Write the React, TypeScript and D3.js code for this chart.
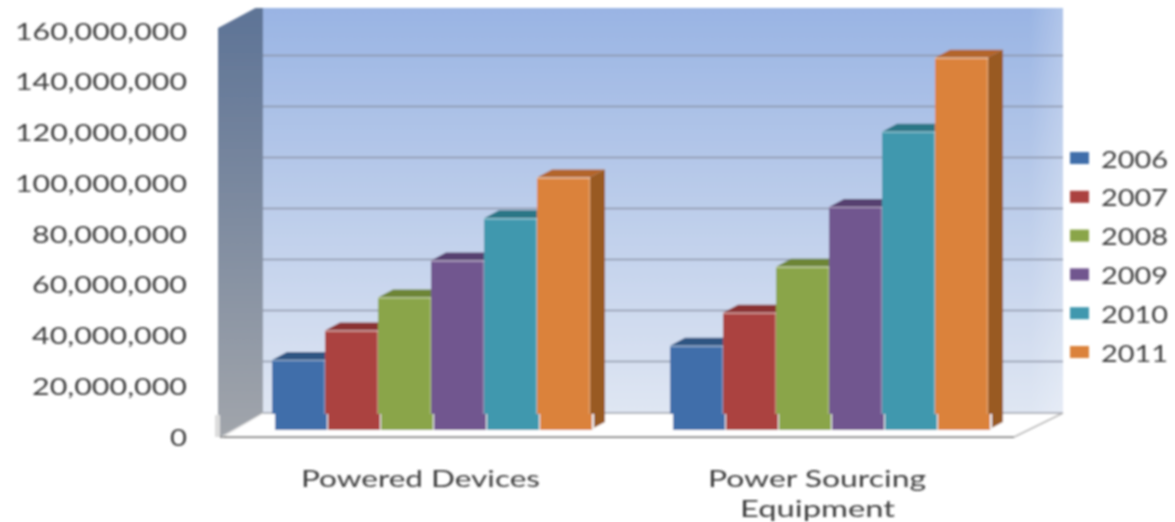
import React from "react";
import * as d3 from "d3";

const categories = ["Powered Devices", "Power Sourcing Equipment"];
const years = ["2006", "2007", "2008", "2009", "2010", "2011"];
const values2006 = [27500000, 33000000];
const values2007 = [39000000, 46000000];
const values2008 = [52000000, 64000000];
const values2009 = [66500000, 87500000];
const values2010 = [83000000, 117000000];
const values2011 = [99000000, 146000000];
const seriesValues = [values2006, values2007, values2008, values2009, values2010, values2011];
const faceColors = ["#3f6eaa", "#ab433f", "#8aa548", "#71568f", "#3f98ae", "#db823a"];
const topColors = ["#2f5482", "#8a3230", "#6d8535", "#574170", "#2b7686", "#b3652a"];
const sideColors = ["#2a4a73", "#74302c", "#5f7430", "#4c3963", "#256473", "#995a21"];
const ticks = [0, 20000000, 40000000, 60000000, 80000000, 100000000, 120000000, 140000000, 160000000];

const W = 1175;
const H = 522;
const font = "Lato, 'DejaVu Sans', sans-serif";
const ink = "#3c3c3c";

const yFront = d3.scaleLinear().domain([0, 160000000]).range([436, 30]);
const yBack = d3.scaleLinear().domain([0, 160000000]).range([412.5, 4.5]);
const yBar = d3.scaleLinear().domain([0, 160000000]).range([430, 22]);
const x0 = d3.scaleBand<string>().domain(categories).range([272, 1068]);
const x1 = d3.scaleBand<string>().domain(years).range([0, 318]);
const yLegend = d3.scalePoint<string>().domain(years).range([158, 352]);
const fmt = d3.format(",");

const depthX = 15;
const depthY = 8;

const Stretched = ({ x, y, anchor, width, children }: any) => (
  <text
    x={x}
    y={y}
    fontFamily={font}
    fontSize={24}
    fill={ink}
    textAnchor={anchor}
    dominantBaseline="central"
    textLength={width}
    lengthAdjust="spacingAndGlyphs"
  >
    {children}
  </text>
);

export default function App() {
  return (
    <svg width={W} height={H} style={{ position: "absolute", left: 0, top: 0, background: "#fff" }}>
      <defs>
        <linearGradient id="wall" x1="0" y1="0" x2="0" y2="1">
          <stop offset="0" stopColor="#98b3e3" />
          <stop offset="0.5" stopColor="#bccdea" />
          <stop offset="1" stopColor="#dfe6f3" />
        </linearGradient>
        <linearGradient id="fade" x1="0" y1="0" x2="1" y2="0">
          <stop offset="0" stopColor="#fff" stopOpacity="0" />
          <stop offset="1" stopColor="#fff" stopOpacity="0.22" />
        </linearGradient>
        <linearGradient id="leftWall" x1="0" y1="0" x2="0" y2="1">
          <stop offset="0" stopColor="#5d7396" />
          <stop offset="1" stopColor="#a1a5ab" />
        </linearGradient>
        <filter id="soft" x="-2%" y="-2%" width="104%" height="104%">
          <feGaussianBlur stdDeviation="0.9" />
        </filter>
        <clipPath id="frame">
          <rect x={0} y={8} width={W} height={H - 8} />
        </clipPath>
      </defs>
      <g filter="url(#soft)">
        <g clipPath="url(#frame)">
          <rect x={263} y={0} width={800} height={413} fill="url(#wall)" />
          <rect x={1030} y={0} width={33} height={413} fill="url(#fade)" />
          <polygon points="218,28 263,4 263,413 220,437 218,437" fill="url(#leftWall)" />
          <polygon points="215,415 220,415 220,437 215,437" fill="#dcdcdc" />
          {ticks.slice(1).map((t) => (
            <line key={t} x1={263} x2={1063} y1={yBack(t)} y2={yBack(t)} stroke="#8b93a6" strokeWidth={1.6} />
          ))}
          <polygon points="222,437 1014,437 1063,413 263,413" fill="#fff" />
          <line x1={263} x2={1063} y1={413} y2={413} stroke="#9a9ea8" strokeWidth={1.5} />
          <line x1={220} x2={1014} y1={437} y2={437} stroke="#8a8a8a" strokeWidth={2} />
          <line x1={1014} x2={1063} y1={437} y2={413} stroke="#b5b5b5" strokeWidth={1.5} />
          <line x1={222} x2={263} y1={437} y2={413} stroke="#c8c8c8" strokeWidth={1} />
        </g>

        {categories.map((c, ci) =>
          years.map((yr, si) => {
            const x = (x0(c) as number) + (x1(yr) as number);
            const w = x1.bandwidth();
            const top = yBar(seriesValues[si][ci]);
            const base = yBar(0);
            const lip = 414;
            return (
              <g key={c + yr}>
                <polygon
                  points={`${x + w},${top} ${x + depthX + w},${top - depthY} ${x + w + depthX},${base - depthY} ${x + w},${base}`}
                  fill={sideColors[si]}
                />
                <polygon
                  points={`${x},${top} ${x + depthX},${top - depthY} ${x + w + depthX},${top - depthY} ${x + w},${top}`}
                  fill={topColors[si]}
                />
                <rect x={x} y={top} width={w} height={lip - top} fill={faceColors[si]} />
                <rect x={x + 3} y={lip} width={w - 1} height={base - lip} fill={faceColors[si]} />
                <rect x={x + w + 2} y={lip} width={2} height={base - lip} fill="#eef0f2" />
                <line x1={x} x2={x + w} y1={top + 0.5} y2={top + 0.5} stroke="#fff" strokeOpacity={0.45} strokeWidth={1.4} />
                <line x1={x + w - 0.5} x2={x + w - 0.5} y1={top} y2={lip} stroke="#fff" strokeOpacity={0.3} strokeWidth={1.4} />
              </g>
            );
          })
        )}

        {ticks.map((t) => (
          <Stretched key={t} x={187} y={yFront(t)} anchor="end" width={t === 0 ? 17 : t >= 100000000 ? 172 : 155}>
            {fmt(t)}
          </Stretched>
        ))}

        <Stretched x={301} y={477} anchor="start" width={239}>Powered Devices</Stretched>
        <Stretched x={708} y={477} anchor="start" width={218}>Power Sourcing</Stretched>
        <Stretched x={740} y={507} anchor="start" width={155}>Equipment</Stretched>

        {years.map((yr, i) => (
          <g key={yr}>
            <rect x={1070} y={(yLegend(yr) as number) - 6} width={19} height={12} fill={faceColors[i]} />
            <Stretched x={1101} y={yLegend(yr)} anchor="start" width={67}>{yr}</Stretched>
          </g>
        ))}
      </g>
    </svg>
  );
}
